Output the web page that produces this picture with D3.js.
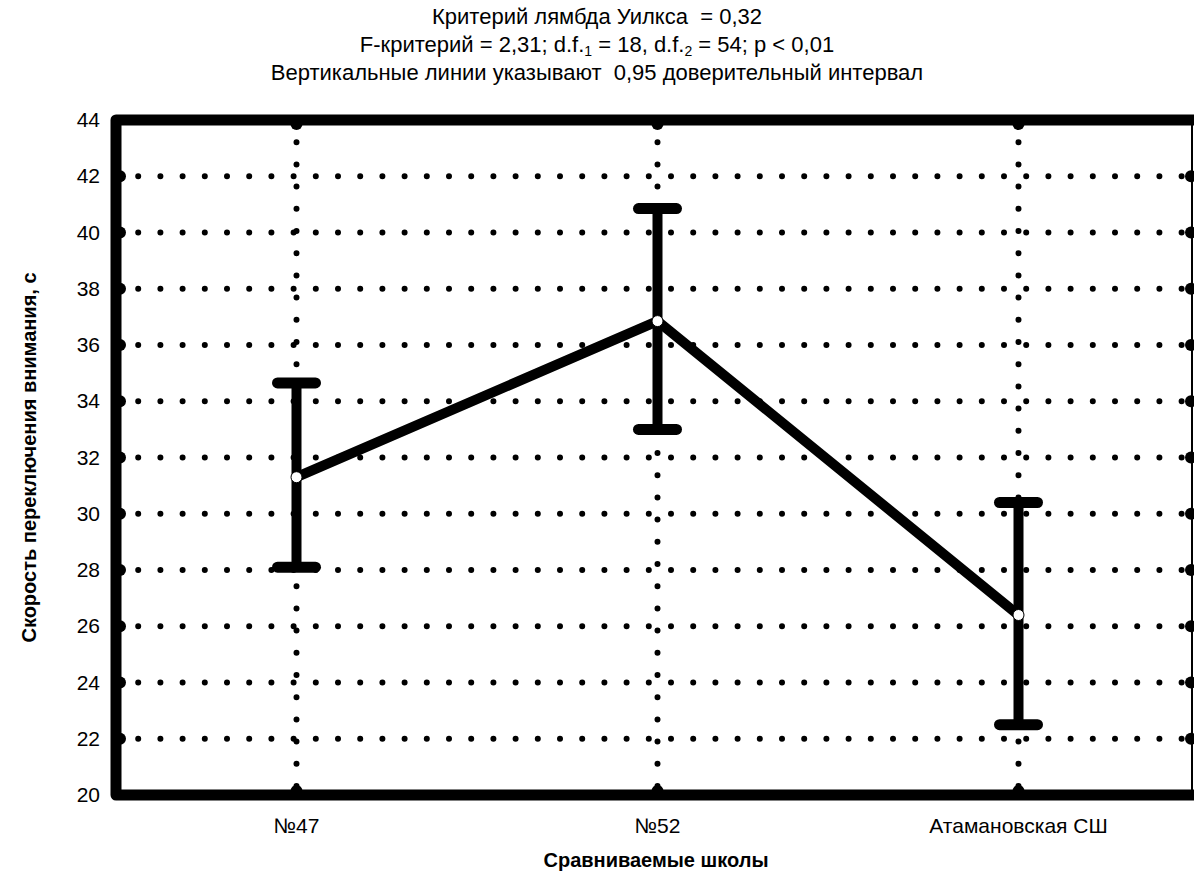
<!DOCTYPE html>
<html>
<head>
<meta charset="utf-8">
<script src="https://cdn.jsdelivr.net/npm/d3@7"></script>
<style>
  body { margin: 0; background: #fff; }
  text { font-family: "Liberation Sans", Arial, sans-serif; fill: #000; }
</style>
</head>
<body>
<script>
var w = 1194;
var h = 889;

// data
var schools = ["№47", "№52", "Атамановская СШ"];
var means = [31.3, 36.85, 26.4];
var ciLow = [28.1, 33.0, 22.5];
var ciHigh = [34.65, 40.85, 30.4];
var yTicks = [20, 22, 24, 26, 28, 30, 32, 34, 36, 38, 40, 42, 44];
var titleLines = [
  "Критерий лямбда Уилкса  = 0,32",
  null,
  "Вертикальные линии указывают  0,95 доверительный интервал"
];

var plotL = 116, plotT = 120, plotB = 795, plotR = 1192;

var x = d3.scalePoint()
          .domain(schools)
          .range([plotL, plotL + 3 * 361])
          .padding(0.5);

var y = d3.scaleLinear()
          .domain([20, 44])
          .range([plotB, plotT]);

var svg = d3.select("body")
            .append("svg")
            .attr("width", w)
            .attr("height", h);

//title
svg.append("text")
   .attr("x", 597).attr("y", 24)
   .attr("text-anchor", "middle")
   .style("font-size", "22px")
   .style("white-space", "pre")
   .text(titleLines[0]);

var t2 = svg.append("text")
   .attr("x", 597).attr("y", 52)
   .attr("text-anchor", "middle")
   .style("font-size", "22px");
t2.append("tspan").text("F-критерий = 2,31; d.f.");
t2.append("tspan").attr("dy", 4).style("font-size", "14px").text("1");
t2.append("tspan").attr("dy", -4).text(" = 18, d.f.");
t2.append("tspan").attr("dy", 4).style("font-size", "14px").text("2");
t2.append("tspan").attr("dy", -4).text(" = 54; p < 0,01");

svg.append("text")
   .attr("x", 597).attr("y", 80)
   .attr("text-anchor", "middle")
   .style("font-size", "22px")
   .style("white-space", "pre")
   .text(titleLines[2]);

//dotted grid
var gridY = yTicks.filter(function(d) { return d > 20 && d < 44; });
svg.selectAll(".gy")
   .data(gridY)
   .enter()
   .append("line")
   .attr("x1", plotL).attr("x2", plotR)
   .attr("y1", function(d) { return y(d); })
   .attr("y2", function(d) { return y(d); })
   .style("stroke", "#000")
   .style("stroke-width", 6)
   .style("stroke-linecap", "round")
   .style("stroke-dasharray", "0,22.2");

svg.selectAll(".gx")
   .data(schools)
   .enter()
   .append("line")
   .attr("x1", function(d) { return x(d); })
   .attr("x2", function(d) { return x(d); })
   .attr("y1", plotT).attr("y2", plotB)
   .style("stroke", "#000")
   .style("stroke-width", 6)
   .style("stroke-linecap", "round")
   .style("stroke-dasharray", "0,22.2");

//tick bumps on the frame
svg.selectAll(".bl")
   .data(gridY)
   .enter()
   .append("circle")
   .attr("cx", plotL + 4).attr("cy", function(d) { return y(d); })
   .attr("r", 6);
svg.selectAll(".br")
   .data(gridY)
   .enter()
   .append("circle")
   .attr("cx", plotR - 1).attr("cy", function(d) { return y(d); })
   .attr("r", 6);
svg.selectAll(".bb")
   .data(schools)
   .enter()
   .append("circle")
   .attr("cx", function(d) { return x(d); }).attr("cy", plotB - 4)
   .attr("r", 6);
svg.selectAll(".bt")
   .data(schools)
   .enter()
   .append("circle")
   .attr("cx", function(d) { return x(d); }).attr("cy", plotT + 4)
   .attr("r", 6);

//frame
svg.append("path")
   .attr("d", "M" + (w + 20) + "," + plotT + "H" + plotL + "V" + plotB + "H" + (w + 20))
   .style("fill", "none")
   .style("stroke", "#000")
   .style("stroke-width", 11)
   .style("stroke-linejoin", "round");
svg.append("line")
   .attr("x1", plotR).attr("x2", plotR)
   .attr("y1", plotT).attr("y2", plotB)
   .style("stroke", "#000")
   .style("stroke-width", 2);

//y tick labels
svg.selectAll(".yl")
   .data(yTicks)
   .enter()
   .append("text")
   .attr("x", 100)
   .attr("y", function(d) { return y(d) + 7; })
   .attr("text-anchor", "end")
   .style("font-size", "21px")
   .text(function(d) { return d; });

//x tick labels
svg.selectAll(".xl")
   .data(schools)
   .enter()
   .append("text")
   .attr("x", function(d) { return x(d); })
   .attr("y", 833)
   .attr("text-anchor", "middle")
   .style("font-size", "21px")
   .text(function(d) { return d; });

//axis titles
svg.append("text")
   .attr("x", 656).attr("y", 867)
   .attr("text-anchor", "middle")
   .style("font-size", "20px")
   .style("font-weight", "bold")
   .text("Сравниваемые школы");

svg.append("text")
   .attr("transform", "translate(36," + ((plotT + plotB) / 2) + ") rotate(-90)")
   .attr("text-anchor", "middle")
   .style("font-size", "20px")
   .style("font-weight", "bold")
   .text("Скорость переключения внимания, с");

//mean line
var pts = schools.map(function(d, i) { return [x(d), y(means[i])]; });
svg.append("path")
   .attr("d", d3.line()(pts))
   .style("fill", "none")
   .style("stroke", "#000")
   .style("stroke-width", 10)
   .style("stroke-linejoin", "miter");

//error bars
var eb = svg.selectAll(".eb")
            .data(schools)
            .enter()
            .append("g");
eb.append("line")
  .attr("x1", function(d) { return x(d); })
  .attr("x2", function(d) { return x(d); })
  .attr("y1", function(d, i) { return y(ciLow[i]); })
  .attr("y2", function(d, i) { return y(ciHigh[i]); })
  .style("stroke", "#000")
  .style("stroke-width", 10);
[ciLow, ciHigh].forEach(function(arr) {
  eb.append("line")
    .attr("x1", function(d) { return x(d) - 19; })
    .attr("x2", function(d) { return x(d) + 19; })
    .attr("y1", function(d, i) { return y(arr[i]); })
    .attr("y2", function(d, i) { return y(arr[i]); })
    .style("stroke", "#000")
    .style("stroke-width", 11)
    .style("stroke-linecap", "round");
});

//markers
svg.selectAll(".m")
   .data(schools)
   .enter()
   .append("circle")
   .attr("cx", function(d) { return x(d); })
   .attr("cy", function(d, i) { return y(means[i]); })
   .attr("r", 5.5)
   .style("fill", "#fff")
   .style("stroke", "#000")
   .style("stroke-width", 1);
</script>
</body>
</html>
